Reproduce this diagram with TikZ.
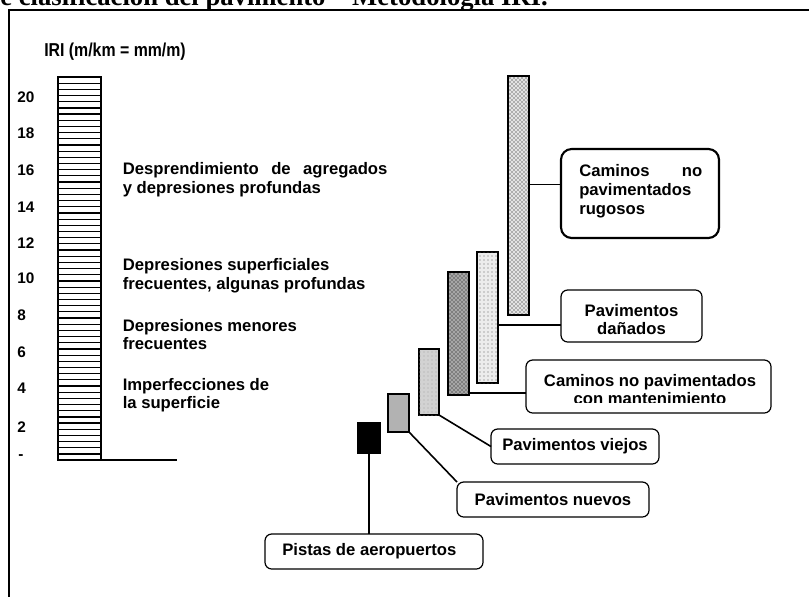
\documentclass[tikz,border=0pt]{standalone}
\usepackage{fontspec}
\setmainfont{Liberation Sans}
\newfontfamily\titlefont{Liberation Serif}
\usetikzlibrary{patterns,calc}
\begin{document}
\begin{tikzpicture}[x=0.75pt,y=-0.75pt,
  lbl/.style={font=\bfseries\fontsize{12.5}{13.9}\selectfont, inner sep=0pt},
  num/.style={font=\bfseries\fontsize{11.5}{12}\selectfont, anchor=west, inner sep=0pt},
  bar/.style={draw, line width=1.3pt, inner sep=0pt, outer sep=0pt},
  cbox/.style={draw, rounded corners=5pt, line width=0.9pt, inner sep=0pt, outer sep=0pt},
  link/.style={line width=1.2pt},
]
\clip (0,0) rectangle (809,596);
\useasboundingbox (0,0) rectangle (809,596);
\fill[white] (0,0) rectangle (809,596);
% title (cut at top)
\node[anchor=base east, inner sep=0pt, font=\titlefont\bfseries\fontsize{20}{24}\selectfont] (title) at (548,5.5) {de clasificación del pavimento – Metodología IRI.};
% frame
\draw[line width=1.5pt] (9,600) -- (9,10) -- (812,10);
% header
\node[anchor=west, inner sep=0pt, font=\bfseries\fontsize{14}{16}\selectfont] (head) at (44,52) {\scalebox{0.85}[1]{IRI (m/km = mm/m)}};
% scale bar
\node[bar, fill=white, minimum width=32.25pt, minimum height=287.25pt] (scale) at (79.5,268.5) {};
\foreach \k in {1,...,62} \draw[line width=0.9pt] (58,77+\k*6.18) -- (101,77+\k*6.18);
\coordinate (baseend) at (177,460);
\draw[line width=1.3pt] (scale.south east) -- (baseend);
% numbers
\foreach \v/\y in {20/97,18/133,16/170,14/207,12/243,10/278,8/315,6/352,4/388,2/427} \node[num] (n\v) at (17,\y) {\v};
\node[num] (n0) at (18,457) {-};
% descriptions
\node[lbl, anchor=west, align=left] (d1) at (122.5,179.5) {\makebox[198.5pt][s]{Desprendimiento de agregados}\\y depresiones profundas};
\node[lbl, anchor=west, align=left] (d2) at (122.5,275.5) {Depresiones superficiales\\frecuentes, algunas profundas};
\node[lbl, anchor=west, align=left] (d3) at (122.5,334.5) {Depresiones menores\\frecuentes};
\node[lbl, anchor=west, align=left] (d4) at (122.5,395) {Imperfecciones de\\la superficie};
% bars
\node[bar, fill=gray!22, postaction={pattern=crosshatch dots, pattern color=black}, minimum width=15.75pt, minimum height=179.25pt] (A) at (518.5,195.5) {};
\node[bar, fill=gray!15, postaction={pattern=dots, pattern color=black!60}, minimum width=15.75pt, minimum height=98.25pt] (B) at (487.5,317.5) {};
\node[bar, fill=gray!70, postaction={pattern=crosshatch dots, pattern color=black}, minimum width=15.75pt, minimum height=92.25pt] (C) at (458.5,333.5) {};
\node[bar, fill=gray!35, postaction={pattern=dots, pattern color=gray!70}, minimum width=15pt, minimum height=49.5pt] (D) at (429,382) {};
\node[bar, fill=gray!60, minimum width=15.75pt, minimum height=28.5pt] (E) at (398.5,413) {};
\node[bar, fill=black, minimum width=16.5pt, minimum height=22.5pt] (F) at (369,438) {};
% boxes
\node[cbox, line width=1.6pt, rounded corners=8pt, minimum width=118.5pt, minimum height=66.75pt] (rug) at (640,193.5) {};
\node[lbl, anchor=west, align=left, font=\bfseries\fontsize{12.5}{14.3}\selectfont] (rugt) at (579,191) {\makebox[92.25pt][s]{Caminos no}\\pavimentados\\rugosos};
\node[cbox, minimum width=105.75pt, minimum height=39pt] (dan) at (631.5,316) {};
\begin{scope}
\clip (dan.north west) rectangle ($(dan.south east)+(0,-8)$);
\node[lbl, align=center] (dant) at (631.5,319.5) {Pavimentos\\dañados};
\end{scope}
\node[cbox, minimum width=183.75pt, minimum height=39.75pt] (man) at (648.5,386.5) {};
\begin{scope}
\clip (man.north west) rectangle ($(man.south east)+(0,-11)$);
\node[lbl, align=center] (mant) at (650,389.5) {Caminos no pavimentados\\con mantenimiento};
\end{scope}
\node[cbox, lbl, draw, line width=0.9pt, minimum width=126pt, minimum height=26.25pt] (vie) at (575,446.5) {Pavimentos viejos};
\node[cbox, lbl, draw, line width=0.9pt, minimum width=144pt, minimum height=26.25pt] (nue) at (553,499.5) {Pavimentos nuevos};
\node[cbox, minimum width=163.5pt, minimum height=26.25pt] (pis) at (374,551.5) {};
\node[lbl, anchor=west] (pist) at (282,551.5) {Pistas de aeropuertos};
% connectors
\path (A.east) ++(0,-11) coordinate (a1);
\draw[link] (a1) -- (a1 -| rug.west);
\path (B.east) ++(0,7.5) coordinate (b1);
\draw[link] (b1) -- (b1 -| dan.west);
\path (C.south east) ++(0,-2) coordinate (c1);
\draw[link] (c1) -- (c1 -| man.west);
\draw[link] (D.south east) -- (vie.west);
\draw[link] (E.south east) -- (nue.north west);
\draw[link] (F.south) -- (F.south |- pis.north);
\end{tikzpicture}
\end{document}
